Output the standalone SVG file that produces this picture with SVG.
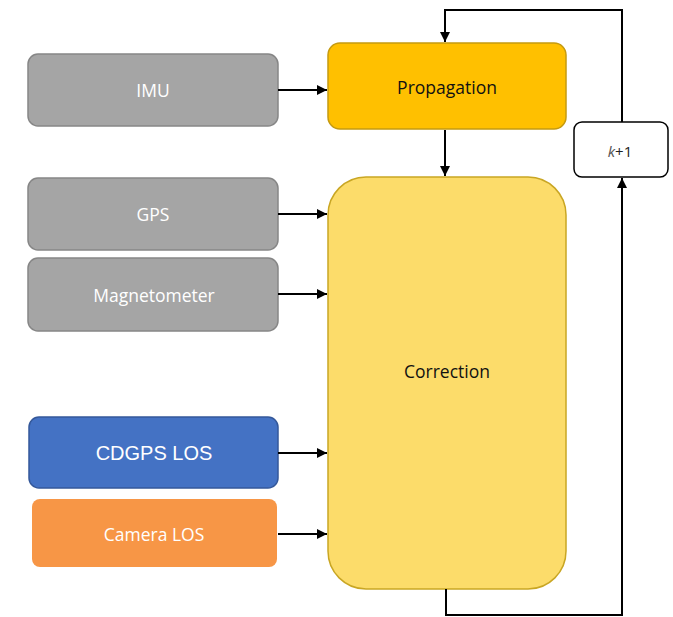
<svg xmlns="http://www.w3.org/2000/svg" width="673" height="617" viewBox="0 0 673 617">
  <defs>
    <marker id="arrow" viewBox="0 0 10 10" refX="10" refY="5" markerWidth="5" markerHeight="5" orient="auto" markerUnits="strokeWidth">
      <path d="M0,0 L10,5 L0,10 z" fill="#000"/>
    </marker>
    <style>
      .sensor { fill: #a5a5a5; stroke: #868686; stroke-width: 1.5; }
      .lbl { font-family: "Open Sans", "Liberation Sans", sans-serif; font-size: 17.5px; text-anchor: middle; dominant-baseline: central; }
      .white { fill: #ffffff; }
      .dark { fill: #111111; }
      .wire { fill: none; stroke: #000; stroke-width: 2; }
    </style>
  </defs>
  <rect width="673" height="617" fill="#ffffff"/>

  <!-- sensor sources -->
  <g id="imu">
    <rect class="sensor" x="28" y="54" width="250" height="72" rx="10"/>
    <text class="lbl white" x="153" y="90">IMU</text>
  </g>
  <g id="gps">
    <rect class="sensor" x="28" y="178" width="250" height="72" rx="10"/>
    <text class="lbl white" x="153" y="214">GPS</text>
  </g>
  <g id="magnetometer">
    <rect class="sensor" x="28" y="258" width="250" height="73" rx="10"/>
    <text class="lbl white" x="154" y="295">Magnetometer</text>
  </g>
  <g id="cdgps-los">
    <rect x="29" y="417" width="249" height="71" rx="10" fill="#4472c4" stroke="#34589a" stroke-width="1.5"/>
    <text x="154" y="453" font-family="'Liberation Sans', Arial, sans-serif" font-size="20" fill="#ffffff" text-anchor="middle" dominant-baseline="central">CDGPS LOS</text>
  </g>
  <g id="camera-los">
    <rect x="32" y="499" width="245" height="68" rx="8" fill="#f79646"/>
    <text class="lbl white" x="154" y="534">Camera LOS</text>
  </g>

  <!-- filter stages -->
  <g id="propagation">
    <rect x="328" y="43" width="238" height="86" rx="12" fill="#ffc000" stroke="#c59a10" stroke-width="1.5"/>
    <text class="lbl dark" x="447" y="87">Propagation</text>
  </g>
  <g id="correction">
    <rect x="328" y="177" width="238" height="412" rx="38" fill="#fcdc6a" stroke="#c9a623" stroke-width="1.5"/>
    <text class="lbl dark" x="447" y="371">Correction</text>
  </g>
  <g id="step">
    <rect x="574" y="122" width="94" height="55" rx="8" fill="#ffffff" stroke="#000" stroke-width="1.5"/>
    <text x="620" y="151" font-family="'Open Sans', 'Liberation Sans', sans-serif" font-size="15" fill="#222" text-anchor="middle" dominant-baseline="central"><tspan font-style="italic" fill="#555">k</tspan>+1</text>
  </g>

  <!-- connectors -->
  <g id="connectors">
    <path class="wire" d="M278,90 H327" marker-end="url(#arrow)"/>
    <path class="wire" d="M278,214 H327" marker-end="url(#arrow)"/>
    <path class="wire" d="M278,294 H327" marker-end="url(#arrow)"/>
    <path class="wire" d="M278,453 H327" marker-end="url(#arrow)"/>
    <path class="wire" d="M278,534 H327" marker-end="url(#arrow)"/>
    <path class="wire" d="M445,130 V176" marker-end="url(#arrow)"/>
    <path class="wire" d="M622,122 V10 H445 V42" marker-end="url(#arrow)"/>
    <path class="wire" d="M446,589 V615 H622 V178" marker-end="url(#arrow)"/>
  </g>
</svg>
